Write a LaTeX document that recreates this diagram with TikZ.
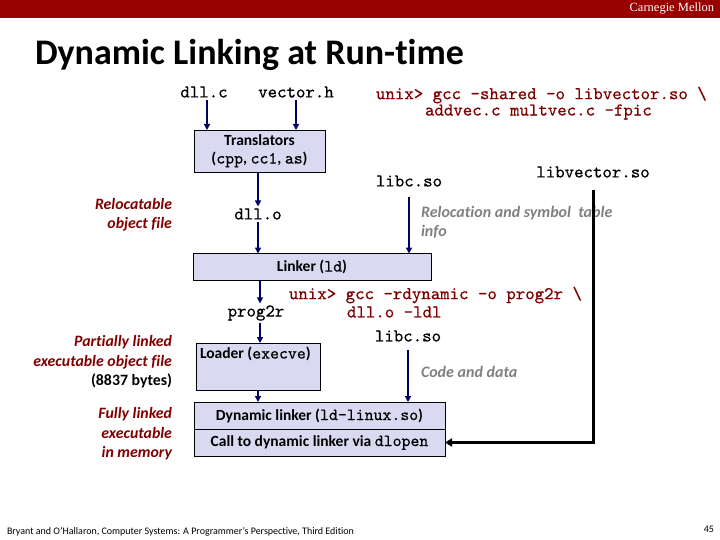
\documentclass[tikz,border=0pt]{standalone}
\usepackage{fontspec}
\setmainfont{Carlito}[Ligatures={TeX,NoCommon}]
\setmonofont{lmmono10-regular}[Extension=.otf, FakeBold=0.6]
\newfontfamily\cmufont{Liberation Serif}
\usetikzlibrary{arrows.meta}
\definecolor{barred}{RGB}{153,0,0}
\definecolor{darkred}{RGB}{128,0,0}
\definecolor{boxfill}{RGB}{217,217,242}
\definecolor{navy}{RGB}{0,0,96}
\definecolor{graytext}{RGB}{128,128,128}
\newcommand\mytt[1]{{\mdseries\ttfamily\fontsize{17}{18}\selectfont #1}}
\begin{document}
\begin{tikzpicture}[x=1pt,y=-1pt,
  every node/.style={inner sep=0pt, outer sep=0pt},
  mono/.style={font=\fontsize{18}{20}\selectfont\ttfamily},
  cmd/.style={font=\fontsize{18}{20}\selectfont\ttfamily, text=darkred, anchor=west},
  procbox/.style={draw=black, line width=0.8pt, fill=boxfill, font=\fontsize{15.5}{18}\selectfont\bfseries, align=center},
  boxtext/.style={font=\fontsize{15.5}{18}\selectfont\bfseries},
  side/.style={font=\fontsize{15.8}{19.5}\selectfont\bfseries\itshape, text=darkred, anchor=east, align=right},
  note/.style={font=\fontsize{16}{19}\selectfont\bfseries\itshape, text=graytext, anchor=west, align=left},
  arr/.style={draw=navy, line width=1.5pt, -{Triangle[length=6pt,width=6pt]}},
  thickarr/.style={draw=black, line width=3pt, -{Triangle[length=7pt,width=8pt]}},
]
\useasboundingbox (0,0) rectangle (720,540);
\fill[barred] (0,0) rectangle (720,18);
\node[anchor=east, text=white, font=\fontsize{12.5}{13}\selectfont\cmufont] (cmu) at (714,9) {Carnegie Mellon};
\node[anchor=base west, font=\fontsize{36}{40}\selectfont\bfseries] (title) at (35,65) {Dynamic Linking at Run-time};

% top row
\node[mono] (dllc) at (204,92) {dll.c};
\node[mono] (vech) at (296,92) {vector.h};
\node[procbox, minimum width=131pt, minimum height=42pt] (trans) at (259.5,151) {Translators\\(\mytt{cpp}, \mytt{cc1}, \mytt{as})};
\node[mono] (dllo) at (258,214) {dll.o};
\node[procbox, minimum width=238pt, minimum height=27pt] (linker) at (312,267) {Linker (\mytt{ld})};
\node[side] (reloc) at (172,215) {Relocatable\\object file};

\node[cmd] (cmd1a) at (376,95) {unix> gcc -shared -o libvector.so \textbackslash};
\node[cmd] (cmd1b) at (425,112) {addvec.c multvec.c -fpic};
\node[mono] (libc1) at (409,181) {libc.so};
\node[mono] (libvec) at (593,172) {libvector.so};
\node[note] (relnote) at (421,222) {Relocation and symbol\ \ table\\info};

% middle
\node[mono] (prog) at (256,313) {prog2r};
\node[cmd] (cmd2a) at (289,295) {unix> gcc -rdynamic —o prog2r \textbackslash};
\node[cmd] (cmd2b) at (347,312) {dll.o -ldl};
\node[mono] (libc2) at (408,336) {libc.so};
\node[procbox, minimum width=124pt, minimum height=47pt] (loader) at (258,366.5) {};
\node[boxtext, anchor=west] (loadertext) at (200,354) {Loader (\mytt{execve})};
\node[note] (codenote) at (421,372) {Code and data};
\node[procbox, minimum width=251pt, minimum height=27pt] (dynlink) at (319.5,415.5) {Dynamic linker (\mytt{ld-linux.so})};
\node[procbox, minimum width=251pt, minimum height=27pt] (call) at (319.5,442.5) {Call to dynamic linker via \mytt{dlopen}};

% left labels
\node[side] (partial) at (172,362) {Partially linked\\executable object file\\\textcolor{black}{\upshape(8837 bytes)}};
\node[side] (full) at (172,434) {Fully linked\\executable\\in memory};

% footer
\node[anchor=base west, font=\fontsize{10}{11}\selectfont] (foot) at (7,534) {Bryant and O’Hallaron, Computer Systems: A Programmer’s Perspective, Third Edition};
\node[anchor=base east, font=\fontsize{10}{11}\selectfont] (page) at (714,532) {45};

% connectors
\draw[arr, shorten <=2pt] ([xshift=3pt]dllc.south) -- ([xshift=3pt]dllc.south |- trans.north);
\draw[arr, shorten <=2pt] (vech.south) -- (vech.south |- trans.north);
\draw[arr, shorten >=2pt] (trans.south -| dllo.north) -- (dllo.north);
\draw[arr, shorten <=2pt] (dllo.south) -- (dllo.south |- linker.north);
\draw[arr, shorten <=10pt] (libc1.south) -- (libc1.south |- linker.north);
\draw[arr, shorten >=2pt] ([xshift=4pt]linker.south -| prog.north) -- ([xshift=4pt]prog.north);
\draw[arr, shorten <=2pt] ([xshift=4pt]prog.south) -- ([xshift=4pt]prog.south |- loader.north);
\draw[arr] (loader.south) -- (loader.south |- dynlink.north);
\draw[arr, shorten <=8pt] (libc2.south) -- (libc2.south |- dynlink.north);
\draw[thickarr, shorten <=12pt] (libvec.south) |- (call.east);
\end{tikzpicture}
\end{document}
